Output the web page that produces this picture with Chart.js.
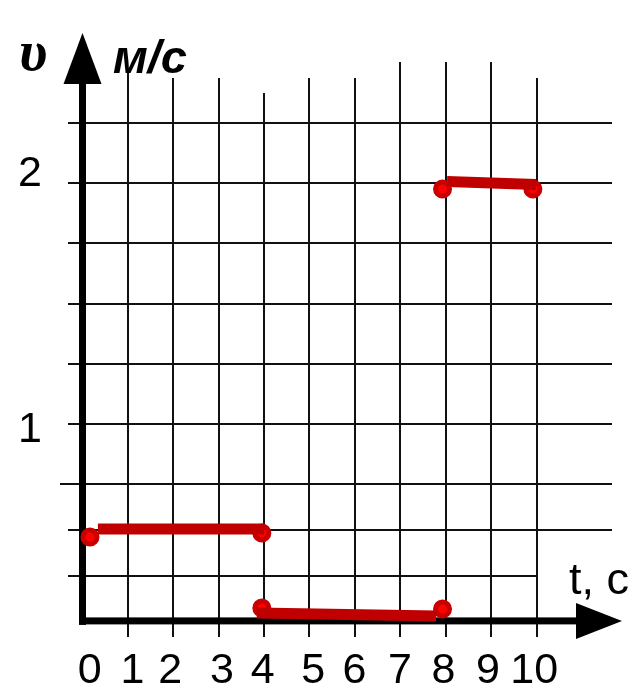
<!DOCTYPE html>
<html><head><meta charset="utf-8">
<script src="https://cdn.jsdelivr.net/npm/chart.js@4.4.0/dist/chart.umd.min.js"></script>
<style>html,body{margin:0;padding:0;background:#fff;}canvas{display:block;}</style>
</head><body>
<canvas id="c" width="636" height="691"></canvas>
<script>
// ---- data (t in s, v in m/s) ----
const seg1T = [0.34, 4.0];
const seg1V = [0.564, 0.564];
const seg2T = [3.84, 7.79];
const seg2V = [0.216, 0.203];
const seg3T = [8.03, 9.99];
const seg3V = [2.006, 1.994];
const dotT = [0.165, 3.95, 3.95, 7.93, 7.93, 9.92];
const dotV = [0.531, 0.548, 0.2365, 0.232, 1.975, 1.975];
const xTickLabels = ['0','1','2','3','4','5','6','7','8','9','10'];
const yTickLabels = ['1','2'];
const yTickValues = [1, 2];
const xGridValues = [1,2,3,4,5,6,7,8,9,10];
const yGridValues = [0.37,0.56,0.75,1,1.25,1.5,1.75,2,2.25];
const yAxisTitle = 'υ';
const yUnit = 'м/с';
const xAxisTitle = 't, с';

// ---- layout (not data) ----
const LAY = {
  xMin: -82.5/45.4, xMax: (636-82.5)/45.4,
  yMax: 665/241, yMin: (665-691)/241,
  axisV: 0.183, axisT: 0,
  xLabelT: [0.16,1.1,1.93,3.07,3.97,5.08,5.99,6.99,7.95,8.93,9.95],
  xLabelY: 683,
  yLabelX: 30, yLabelBase: [442, 186],
  vTop: [71,78,78,93,78,78,62,62,62,78], vBottom: 637,
  hLeft: [68,68,60,68,68,68,68,68,68], hRight: [537,612,612,612,612,612,612,612,612]
};

const pts = (T, V) => T.map((t, i) => ({x: t, y: V[i]}));

const decor = {
  id: 'decor',
  beforeDatasetsDraw(chart) {
    const ctx = chart.ctx, xs = chart.scales.x, ys = chart.scales.y;
    ctx.save();
    // grid
    ctx.strokeStyle = '#111';
    ctx.lineWidth = 2;
    xGridValues.forEach((t, i) => {
      const px = Math.round(xs.getPixelForValue(t));
      ctx.beginPath(); ctx.moveTo(px, LAY.vTop[i]); ctx.lineTo(px, LAY.vBottom); ctx.stroke();
    });
    yGridValues.forEach((v, i) => {
      const py = Math.round(ys.getPixelForValue(v));
      ctx.beginPath(); ctx.moveTo(LAY.hLeft[i], py); ctx.lineTo(LAY.hRight[i], py); ctx.stroke();
    });
    // axes
    const ax = xs.getPixelForValue(LAY.axisT), ay = ys.getPixelForValue(LAY.axisV);
    ctx.fillStyle = '#000';
    ctx.fillRect(ax - 3.5, 80, 7, ay + 4 - 80);
    ctx.fillRect(ax - 3.5, ay - 3.5, 580 - (ax - 3.5), 7);
    ctx.beginPath(); ctx.moveTo(ax, 33); ctx.lineTo(ax - 19, 84); ctx.lineTo(ax + 19, 84); ctx.closePath(); ctx.fill();
    ctx.beginPath(); ctx.moveTo(622, ay); ctx.lineTo(576, ay - 18); ctx.lineTo(576, ay + 18); ctx.closePath(); ctx.fill();
    // tick labels
    ctx.font = '43px "Liberation Sans", Arial, sans-serif';
    ctx.textAlign = 'center'; ctx.textBaseline = 'alphabetic';
    xTickLabels.forEach((s, i) => ctx.fillText(s, xs.getPixelForValue(LAY.xLabelT[i]), LAY.xLabelY));
    yTickLabels.forEach((s, i) => ctx.fillText(s, LAY.yLabelX, LAY.yLabelBase[i]));
    // titles
    ctx.textAlign = 'left';
    ctx.font = '45px "Liberation Sans", Arial, sans-serif';
    ctx.fillText(xAxisTitle, 569, 594);
    ctx.font = 'bold italic 47px "Liberation Sans", Arial, sans-serif';
    ctx.fillText(yUnit, 113, 73);
    ctx.font = 'bold italic 58px "Liberation Serif", "Times New Roman", serif';
    ctx.fillText(yAxisTitle, 19, 70);
    ctx.restore();
  }
};

const lineDs = (T, V) => ({
  data: pts(T, V), showLine: true, pointRadius: 0, borderWidth: 11,
  borderColor: '#C00000', borderCapStyle: 'butt', clip: false, order: 0
});

new Chart(document.getElementById('c'), {
  type: 'scatter',
  data: {
    datasets: [
      lineDs(seg1T, seg1V),
      lineDs(seg2T, seg2V),
      lineDs(seg3T, seg3V),
      { data: pts(dotT, dotV), showLine: false, pointRadius: 7, pointBorderWidth: 5,
        pointBackgroundColor: '#FF0000', pointBorderColor: '#C80000', clip: false, order: 1 }
    ]
  },
  options: {
    responsive: false, animation: false, events: [],
    layout: { padding: 0, autoPadding: false },
    plugins: { legend: { display: false }, tooltip: { enabled: false } },
    scales: {
      x: { type: 'linear', min: LAY.xMin, max: LAY.xMax, display: false },
      y: { type: 'linear', min: LAY.yMin, max: LAY.yMax, display: false }
    }
  },
  plugins: [decor]
});
</script>
</body></html>
